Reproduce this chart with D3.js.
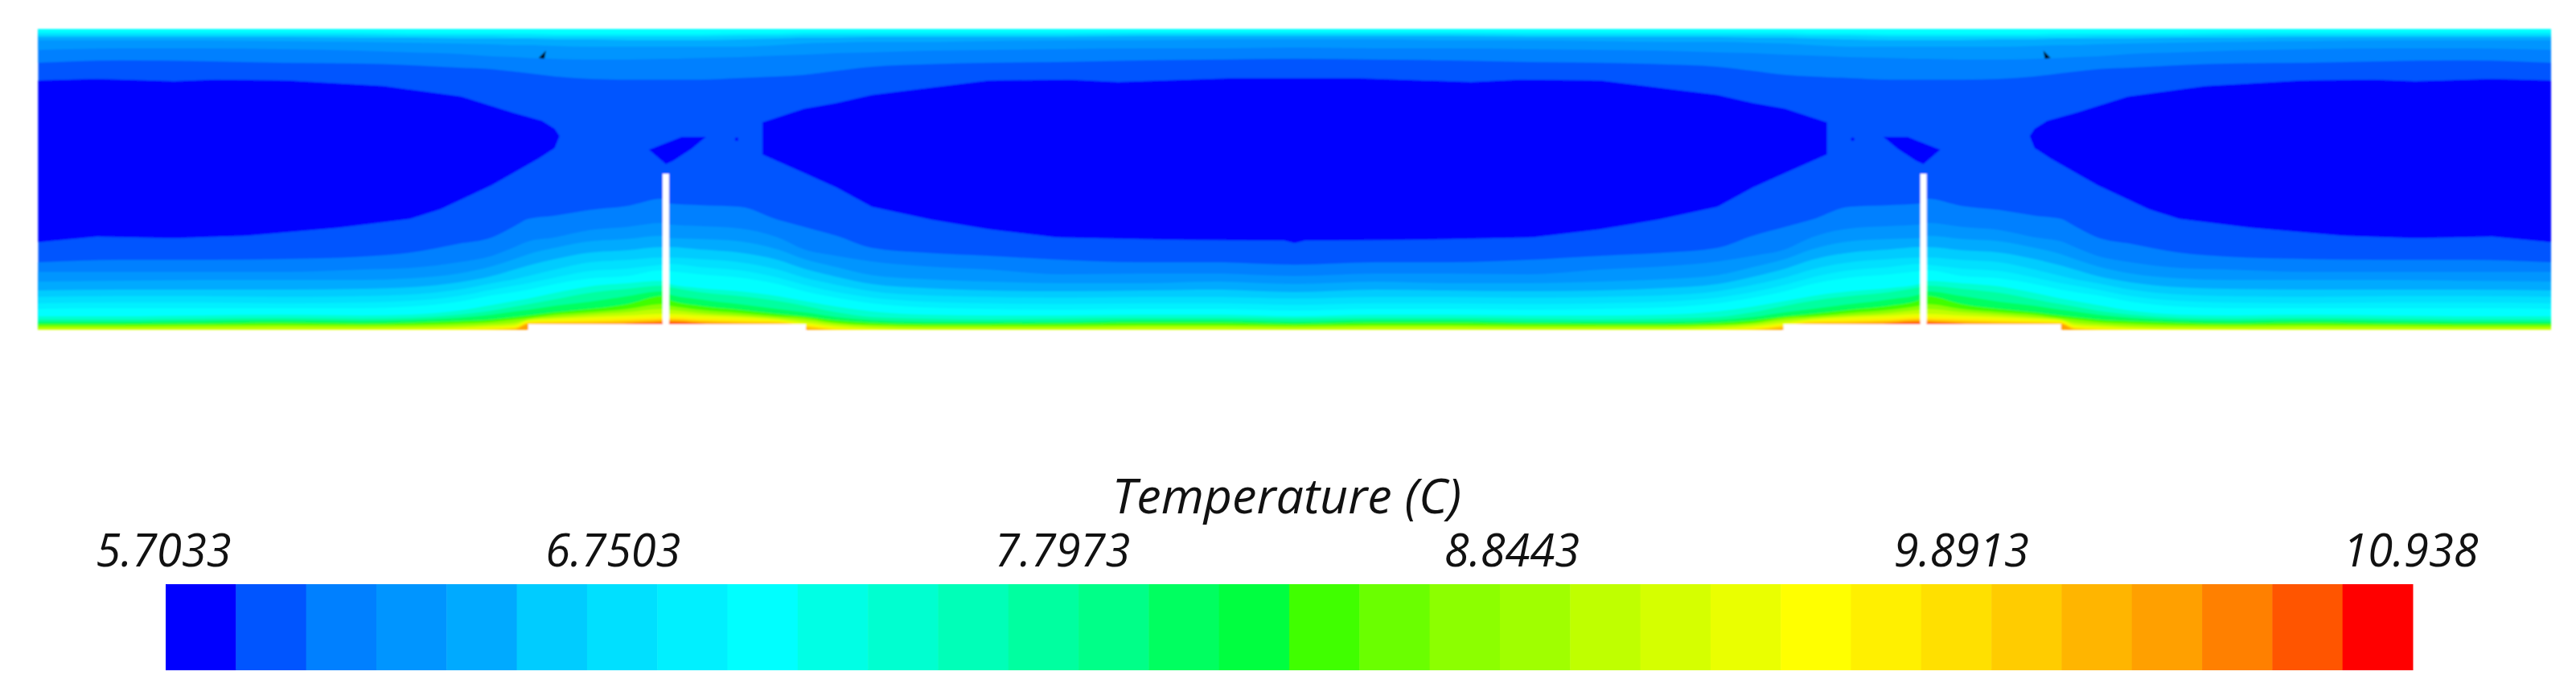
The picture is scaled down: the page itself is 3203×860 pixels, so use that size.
<!DOCTYPE html>
<html>
<head>
<meta charset="utf-8">
<script src="https://cdn.jsdelivr.net/npm/d3@7"></script>
<style>
  html, body { margin: 0; background: #fff; }
  text { font-family: "Open Sans", sans-serif; font-style: italic; fill: #111; }
</style>
</head>
<body>
<div id="container"></div>
<script>
// legend
var palette = ['#0000ff', '#0055ff', '#0080ff', '#0095ff', '#00aaff', '#00ccff', '#00e0ff', '#00f0ff',
  '#00ffff', '#00ffe5', '#00ffd0', '#00ffb8', '#00ffa0', '#00ff88', '#00ff60', '#00ff40',
  '#40ff00', '#6aff00', '#8cff00', '#a0ff00', '#bfff00', '#d5ff00', '#eaff00', '#ffff00',
  '#fff000', '#ffe000', '#ffcc00', '#ffb500', '#ffa000', '#ff8000', '#ff5500', '#ff0000'];
var tickValues = [5.7033, 6.7503, 7.7973, 8.8443, 9.8913, 10.938];
var tickLabels = ['5.7033', '6.7503', '7.7973', '8.8443', '9.8913', '10.938'];
var legendTitle = 'Temperature (C)';

// stations along the left half of the section, the section is symmetric about its middle
var stations = [0, 102, 202, 302, 402, 462, 522, 564, 592, 609, 642, 685, 732, 775, 785, 822, 872, 919, 952, 992, 1036, 1102, 1182, 1272, 1372, 1462, 1561];

// isotherm heights above the floor, rising from the heated floor
var floor2 = [84, 87, 87, 88, 91, 96, 107, 115, 129, 138, 142, 149, 154, 163, 157, 155, 153, 137, 128, 117, 102, 96, 92, 87, 84, 84, 81];
var floor3 = [72, 72, 72, 72, 75, 77, 84, 92, 103, 110, 115, 124, 128, 133, 131, 129, 126, 115, 100, 92, 85, 79, 75, 69, 70, 70, 67];
var floor4 = [60, 61, 62, 62, 62, 64, 70, 79, 88, 94, 102, 110, 113, 117, 114, 113, 110, 100, 88, 78, 68, 63, 60, 58, 58, 60, 57];
var floor5 = [49, 50, 50, 50, 51, 53, 59, 67, 75, 80, 88, 96, 99, 103, 103, 100, 96, 87, 76, 66, 57, 52, 49, 48, 49, 50, 47];
var floor6 = [41, 42, 42, 41, 42, 44, 50, 58, 63, 67, 75, 84, 87, 90, 90, 88, 84, 75, 65, 56, 48, 43, 41, 40, 41, 41, 39];
var floor7 = [33, 34, 34, 33, 34, 36, 42, 50, 55, 58, 65, 73, 76, 81, 82, 78, 74, 65, 56, 47, 40, 35, 33, 32, 33, 33, 31];
var floor8 = [26, 27, 27, 27, 27, 29, 35, 43, 47, 50, 57, 64, 67, 74, 73, 69, 65, 57, 48, 40, 33, 28, 26, 25, 26, 26, 24];
var floor10 = [17, 17, 18, 19, 18, 19, 24, 31, 36, 39, 46, 54, 58, 61, 57, 52, 48, 42, 36, 29, 23, 19, 18, 18, 19, 19, 17];
var floor12 = [13, 13, 14, 15, 14, 15, 19, 24, 29, 32, 38, 46, 51, 55, 53, 47, 42, 36, 30, 22, 16, 14, 13, 14, 15, 15, 14];
var floor14 = [10, 10, 11, 12, 11, 12, 15, 19, 23, 25, 30, 35, 42, 48, 44, 38, 32, 26, 22, 16, 12, 10, 10, 10, 12, 12, 10];
var floor16 = [7.5, 7.5, 8, 9, 8, 9, 11, 13, 16, 18, 22, 26, 32, 42, 37, 30, 25, 20, 17, 12, 9, 7.5, 7.5, 8, 9, 9, 7.5];
var floor18 = [5.5, 5.5, 6, 6.5, 6, 6.5, 8, 10, 13, 15, 19, 22, 26, 32, 30, 25, 21, 17, 15, 9, 6.5, 5.5, 5.5, 5.5, 6, 6, 5.5];
var floor20 = [3, 3, 3.5, 4, 3.5, 4, 5, 7, 9, 13, 16, 19, 22, 26, 25, 21, 18, 15, 12, 7, 4.5, 3, 3, 3, 4, 4, 3];
var floor22 = [.5, .5, .5, .5, 1, 1.5, 2.5, 4.5, 6, 12, 14, 16, 18, 20, 20, 18, 16, 13, 9, 4.5, 2, .5, .5, .5, .5, .5, .5];
var floor24 = [0, 0, 0, 0, 0, 0, .5, 2, 3.5, 10, 11.5, 13, 14.5, 16, 16.5, 14.5, 13, 11, 7, 2, 0, 0, 0, 0, 0, 0, 0];
var floor26 = [0, 0, 0, 0, 0, 0, 0, .5, 2, 8.5, 9.5, 10.5, 12, 13.5, 14, 12, 10.5, 9.5, 5, .5, 0, 0, 0, 0, 0, 0, 0];
var floor28 = [0, 0, 0, 0, 0, 0, 0, 0, .5, 7, 7.5, 8, 9.5, 11.5, 12, 10, 8, 7, 2, 0, 0, 0, 0, 0, 0, 0, 0];
var floor30 = [0, 0, 0, 0, 0, 0, 0, 0, 0, 0, 0, 0, 7.5, 9.5, 10, 8, 0, 0, 0, 0, 0, 0, 0, 0, 0, 0, 0];

// isotherms under the ceiling
var ceiling2 = [332, 335, 334, 332, 331, 329, 326, 324, 321, 319, 315, 312, 311, 311, 311, 311, 313, 315, 317, 322, 327, 330, 332, 333, 335, 336, 337];
var ceiling3 = [348, 350, 350, 349, 347, 345, 343, 340, 339, 338, 337, 336, 336, 337, 337, 338, 339, 341, 342, 344, 345, 347, 348, 349, 350, 350, 351];
var ceiling4 = [360, 360, 360, 359, 358, 357, 356, 355, 354, 354, 353, 352, 352, 352, 352, 352, 352, 354, 356, 357, 358, 358, 359, 360, 360, 361, 361];
var ceiling5 = [364, 364, 364, 364, 363, 363, 362, 362, 362, 362, 361, 361, 360, 360, 360, 360, 361, 362, 363, 363, 364, 364, 364, 364, 365, 365, 365];
var ceiling6 = [366, 366, 366, 366, 366, 365, 365, 365, 364, 364, 364, 364, 364, 364, 364, 364, 365, 365, 366, 366, 366, 366, 366, 366, 367, 367, 367];
var ceiling7 = [368, 368, 368, 368, 368, 367, 367, 367, 367, 367, 366, 366, 366, 366, 366, 366, 367, 367, 368, 368, 368, 368, 368, 368, 369, 369, 369];
var ceiling8 = [370, 370, 370, 370, 370, 369, 369, 369, 369, 369, 368, 368, 368, 368, 368, 368, 369, 369, 370, 370, 370, 370, 370, 370, 370, 370, 370];

// coldest regions, [position, height]
var endCore = [[0, 310], [73, 312], [169, 309], [220, 311], [309, 310], [430, 303], [526, 290], [590, 270], [626, 260], [642, 250], [648, 241], [642, 226], [622, 213], [564, 180], [500, 150], [462, 138], [373, 127], [258, 117], [169, 114], [73, 116], [0, 109]];
var middleCore = [[1561, 313], [1488, 313], [1342, 308], [1281, 311], [1182, 310], [1036, 292], [992, 282], [952, 275], [900, 258], [900, 218], [952, 195], [992, 177], [1036, 153], [1110, 137], [1182, 125], [1266, 115], [1411, 112], [1549, 111], [1561, 108]];
var baffleCore = [[759, 224], [800, 240], [830, 240], [812, 225], [789, 210], [780, 206]];
var coldSpot = [868, 237];
var speck = [[631, 347], [622, 338], [629, 337]];

// solid parts
var stepStart = 609, stepEnd = 954, stepHeight = 7;
var baffleStart = 776, baffleEnd = 784, baffleHeight = 194;

var floorLevels = [[2, floor2], [3, floor3], [4, floor4], [5, floor5], [6, floor6], [7, floor7], [8, floor8], [10, floor10], [12, floor12],
  [14, floor14], [16, floor16], [18, floor18], [20, floor20], [22, floor22], [24, floor24], [26, floor26], [28, floor28], [30, floor30]];
var ceilingLevels = [[2, ceiling2], [3, ceiling3], [4, ceiling4], [5, ceiling5], [6, ceiling6], [7, ceiling7], [8, ceiling8]];

var width = 3203, height = 860, sectionLength = 3123, sectionHeight = 374;

var x = d3.scaleLinear().domain([0, sectionLength]).range([47.5, 3172]);
var y = d3.scaleLinear().domain([0, sectionHeight]).range([410, 36]);

var svg = d3.select('#container')
  .append('svg')
  .attr('width', width).attr('height', height)
  .style('display', 'block');

svg.append('defs').append('filter')
  .attr('id', 'soft')
  .append('feGaussianBlur').attr('stdDeviation', 1.1);

function mirror(p) {
  return sectionLength - p;
}

// whole section from the left half
function profile(heights) {
  var left = stations.map(function (s, i) { return [s, heights[i]]; });
  var right = stations.slice().reverse().map(function (s, i) {
    return [mirror(s), heights[heights.length - 1 - i]];
  });
  return left.concat(right);
}

function mirrored(points) {
  return points.map(function (p) { return [mirror(p[0]), p[1]]; });
}

var field = svg.append('g').attr('filter', 'url(#soft)');

field.append('rect')
  .attr('x', x(0)).attr('y', y(sectionHeight))
  .attr('width', x(sectionLength) - x(0)).attr('height', y(0) - y(sectionHeight))
  .attr('fill', palette[1]);

var polygon = d3.line().x(function (d) { return x(d[0]); }).y(function (d) { return y(d[1]); });

var cores = [endCore, mirrored(endCore), baffleCore, mirrored(baffleCore),
  middleCore.concat(mirrored(middleCore).reverse())];

field.selectAll('.core')
  .data(cores)
  .enter().append('path')
  .attr('class', 'core')
  .attr('d', function (d) { return polygon(d) + 'Z'; })
  .attr('fill', palette[0]);

field.selectAll('.spot')
  .data([coldSpot, [mirror(coldSpot[0]), coldSpot[1]]])
  .enter().append('circle')
  .attr('class', 'spot')
  .attr('cx', function (d) { return x(d[0]); })
  .attr('cy', function (d) { return y(d[1]); })
  .attr('r', 2.2)
  .attr('fill', palette[0]);

var floorArea = d3.area()
  .x(function (d) { return x(d[0]); })
  .y0(y(0))
  .y1(function (d) { return y(d[1]); })
  .curve(d3.curveMonotoneX);

var ceilingArea = d3.area()
  .x(function (d) { return x(d[0]); })
  .y0(y(sectionHeight))
  .y1(function (d) { return y(d[1]); })
  .curve(d3.curveMonotoneX);

field.selectAll('.ceiling')
  .data(ceilingLevels)
  .enter().append('path')
  .attr('class', 'ceiling')
  .attr('d', function (d) { return ceilingArea(profile(d[1])); })
  .attr('fill', function (d) { return palette[d[0]]; });

field.selectAll('.floor')
  .data(floorLevels)
  .enter().append('path')
  .attr('class', 'floor')
  .attr('d', function (d) { return floorArea(profile(d[1])); })
  .attr('fill', function (d) { return palette[d[0]]; });

field.selectAll('.speck')
  .data([speck, mirrored(speck)])
  .enter().append('path')
  .attr('class', 'speck')
  .attr('d', function (d) { return polygon(d) + 'Z'; })
  .attr('fill', '#000');

var solids = [
  [stepStart, stepEnd, stepHeight], [mirror(stepEnd), mirror(stepStart), stepHeight],
  [baffleStart, baffleEnd, baffleHeight], [mirror(baffleEnd), mirror(baffleStart), baffleHeight]
];

field.selectAll('.solid')
  .data(solids)
  .enter().append('rect')
  .attr('class', 'solid')
  .attr('x', function (d) { return x(d[0]); })
  .attr('y', function (d) { return y(d[2]); })
  .attr('width', function (d) { return x(d[1]) - x(d[0]); })
  .attr('height', function (d) { return y(0) - y(d[2]) + 3; })
  .attr('fill', '#fff');

// colour bar
var legendLeft = 206, legendRight = 3000, legendTop = 726, legendBottom = 833;

var cell = d3.scaleBand()
  .domain(d3.range(palette.length))
  .range([legendLeft, legendRight]);

svg.selectAll('.cell')
  .data(palette)
  .enter().append('rect')
  .attr('class', 'cell')
  .attr('x', function (d, i) { return cell(i); })
  .attr('y', legendTop)
  .attr('width', cell.bandwidth() + 0.5)
  .attr('height', legendBottom - legendTop)
  .attr('fill', function (d) { return d; });

var tickScale = d3.scaleLinear()
  .domain([tickValues[0], tickValues[tickValues.length - 1]])
  .range([legendLeft - 3, legendRight - 3]);

var axis = d3.axisTop(tickScale)
  .tickValues(tickValues)
  .tickSize(0)
  .tickPadding(0)
  .tickFormat(function (d, i) { return tickLabels[i]; });

var legendAxis = svg.append('g')
  .attr('transform', 'translate(0,' + (legendTop - 22) + ')')
  .call(axis);

legendAxis.select('.domain').remove();
legendAxis.selectAll('text')
  .attr('dy', 0)
  .style('font-family', '"Open Sans", sans-serif')
  .style('font-style', 'italic')
  .style('font-size', '56px');

svg.append('text')
  .attr('x', 1600)
  .attr('y', 638)
  .attr('text-anchor', 'middle')
  .style('font-size', '61px')
  .text(legendTitle);
</script>
</body>
</html>
